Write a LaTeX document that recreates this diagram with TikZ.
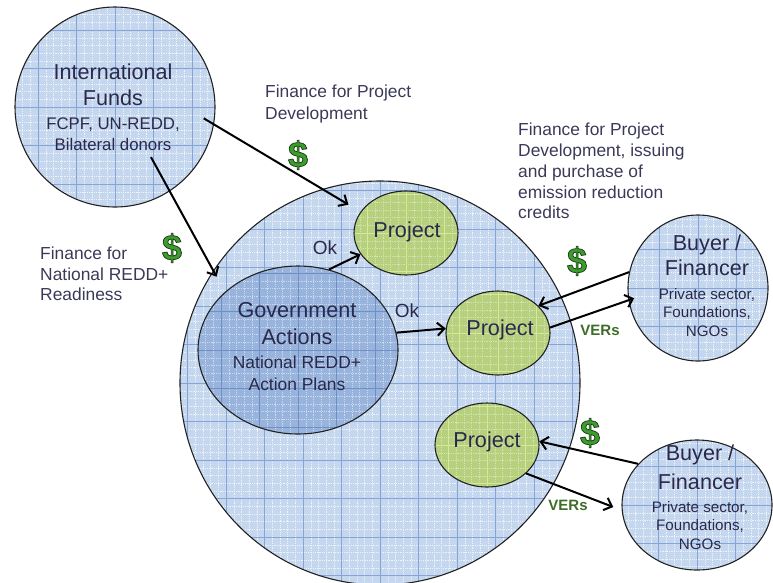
\documentclass[tikz,border=0pt]{standalone}
\usepackage{fontspec}
\setmainfont{Liberation Sans}
\usetikzlibrary{shapes.geometric,arrows.meta}
\definecolor{bigfill}{HTML}{C5D7EE}
\definecolor{biggrid}{HTML}{86A5D6}
\definecolor{govfill}{HTML}{98B4DC}
\definecolor{govgrid}{HTML}{6F8FC6}
\definecolor{projfill}{HTML}{B6D07E}
\definecolor{projgrid}{HTML}{D6E89C}
\definecolor{edge}{HTML}{222222}
\definecolor{inktext}{HTML}{2A294C}
\definecolor{labtext}{HTML}{3A3A58}
\definecolor{dollar}{HTML}{3C9C2C}
\definecolor{vers}{HTML}{3F6C28}
\newcommand{\outlined}[1]{\special{pdf:literal 2 Tr 0.7 w 0.1 0.2 0.1 RG}#1\special{pdf:literal 0 Tr 1 w}}
\tikzset{
  gridded/.style 2 args={path picture={
    \draw[#1, line width=0.4pt, opacity=0.7, dash pattern=on 0.7pt off 1.1pt, step=7.7pt]
      (path picture bounding box.south west) grid (path picture bounding box.north east);
    \draw[#2, line width=0.7pt, step=38.5pt]
      (path picture bounding box.south west) grid (path picture bounding box.north east);
  }},
  blob/.style={ellipse, draw=edge, line width=1.1pt, inner sep=0pt},
  bluebl/.style={blob, fill=bigfill, gridded={white}{biggrid}},
  govbl/.style={blob, fill=govfill, gridded={white!70!govfill}{govgrid}},
  projbl/.style={blob, fill=projfill, gridded={white!60!projfill}{projgrid}, minimum width=104pt, minimum height=84pt},
  big/.style={font=\fontsize{21.6}{26}\selectfont, text=inktext, anchor=mid, inner sep=0pt},
  small/.style={font=\fontsize{16.8}{20}\selectfont, text=inktext, anchor=mid, inner sep=0pt},
  tiny/.style={font=\fontsize{15.2}{18}\selectfont, text=inktext, anchor=mid, inner sep=0pt},
  lab/.style={font=\fontsize{17.4}{21}\selectfont, text=labtext, anchor=mid west, inner sep=0pt},
  oklab/.style={font=\fontsize{19}{22}\selectfont, text=inktext, anchor=mid, inner sep=0pt},
  verlab/.style={font=\fontsize{15}{18}\selectfont\bfseries, text=vers, anchor=mid, inner sep=0pt},
  dollarsign/.style={font=\fontsize{36}{38}\selectfont\bfseries, text=dollar, anchor=center, inner sep=0pt},
  flow/.style={draw=black, line width=2pt, -{Straight Barb[length=7pt,width=13pt]}},
}
\begin{document}
\begin{tikzpicture}[x=1pt,y=-1pt]
\useasboundingbox (0,0) rectangle (773,582);
% shapes
\node[bluebl, minimum width=400pt, minimum height=404pt] (bigc) at (380,383) {};
\node[bluebl, minimum width=200pt, minimum height=200pt] (intl) at (115,107) {};
\node[govbl, minimum width=200pt, minimum height=168pt] (gov) at (298,350) {};
\node[projbl] (p1) at (406,233) {};
\node[projbl] (p2) at (498,333) {};
\node[projbl] (p3) at (487,445) {};
\node[bluebl, minimum width=140pt, minimum height=146pt] (b1) at (698,288) {};
\node[bluebl, minimum width=150pt, minimum height=130pt] (b2) at (697,505) {};
% texts in shapes
\node[big] (t1) at (113,77) {International};
\node[big] (t2) at (113,103) {Funds};
\node[small] (t3) at (113,127) {FCPF, UN-REDD,};
\node[small] (t4) at (113,148) {Bilateral donors};
\node[big] (g1) at (297,315) {Government};
\node[big] (g2) at (297,342) {Actions};
\node[small,font=\fontsize{17.4}{20}\selectfont] (g3) at (297,366) {National REDD+};
\node[small,font=\fontsize{17.4}{20}\selectfont] (g4) at (297,388) {Action Plans};
\node[big] (pt1) at (407,235) {Project};
\node[big] (pt2) at (500,333) {Project};
\node[big] (pt3) at (487,445) {Project};
\node[big] (ba1) at (707,248) {Buyer /};
\node[big] (ba2) at (707,273) {Financer};
\node[tiny] (ba3) at (707,297) {Private sector,};
\node[tiny] (ba4) at (707,315) {Foundations,};
\node[tiny] (ba5) at (707,334) {NGOs};
\node[big] (bb1) at (700,458) {Buyer /};
\node[big] (bb2) at (700,487) {Financer};
\node[tiny] (bb3) at (700,510) {Private sector,};
\node[tiny] (bb4) at (700,528) {Foundations,};
\node[tiny] (bb5) at (700,547) {NGOs};
% arrows
\draw[flow, shorten <=-12pt, shorten >=14pt] (intl.-10) -- (p1.155);
\draw[flow, shorten <=-39pt, shorten >=-7pt] (intl.-57) -- (bigc.146);
\draw[flow] (gov.69) -- (p1.205);
\draw[flow] (gov.10) -- (p2.175);
\draw[flow] (b1.167) -- (p2.34);
\draw[flow, shorten >=-6pt] (p2.6) -- (b1.190);
\draw[flow] (b2.145) -- (p3.4);
\draw[flow, shorten >=9pt] (p3.-36) -- (b2.184);
% labels
\node[lab] (f1a) at (265,95) {Finance for Project};
\node[lab] (f1b) at (265,117) {Development};
\node[lab] (f2a) at (518,133) {Finance for Project};
\node[lab] (f2b) at (518,154) {Development, issuing};
\node[lab] (f2c) at (518,175) {and purchase of};
\node[lab] (f2d) at (518,196) {emission reduction};
\node[lab] (f2e) at (518,216) {credits};
\node[lab] (f3a) at (40,257) {Finance for};
\node[lab] (f3b) at (40,278) {National REDD+};
\node[lab] (f3c) at (40,298) {Readiness};
\node[oklab] (ok1) at (325,252) {Ok};
\node[oklab] (ok2) at (407,315) {Ok};
\node[verlab] (v1) at (600,333) {VERs};
\node[verlab] (v2) at (568,508) {VERs};
\node[dollarsign] (d1) at (298,155) {\outlined{\$}};
\node[dollarsign] (d2) at (172,248) {\outlined{\$}};
\node[dollarsign] (d3) at (577,261) {\outlined{\$}};
\node[dollarsign] (d4) at (590,433) {\outlined{\$}};
\end{tikzpicture}
\end{document}
